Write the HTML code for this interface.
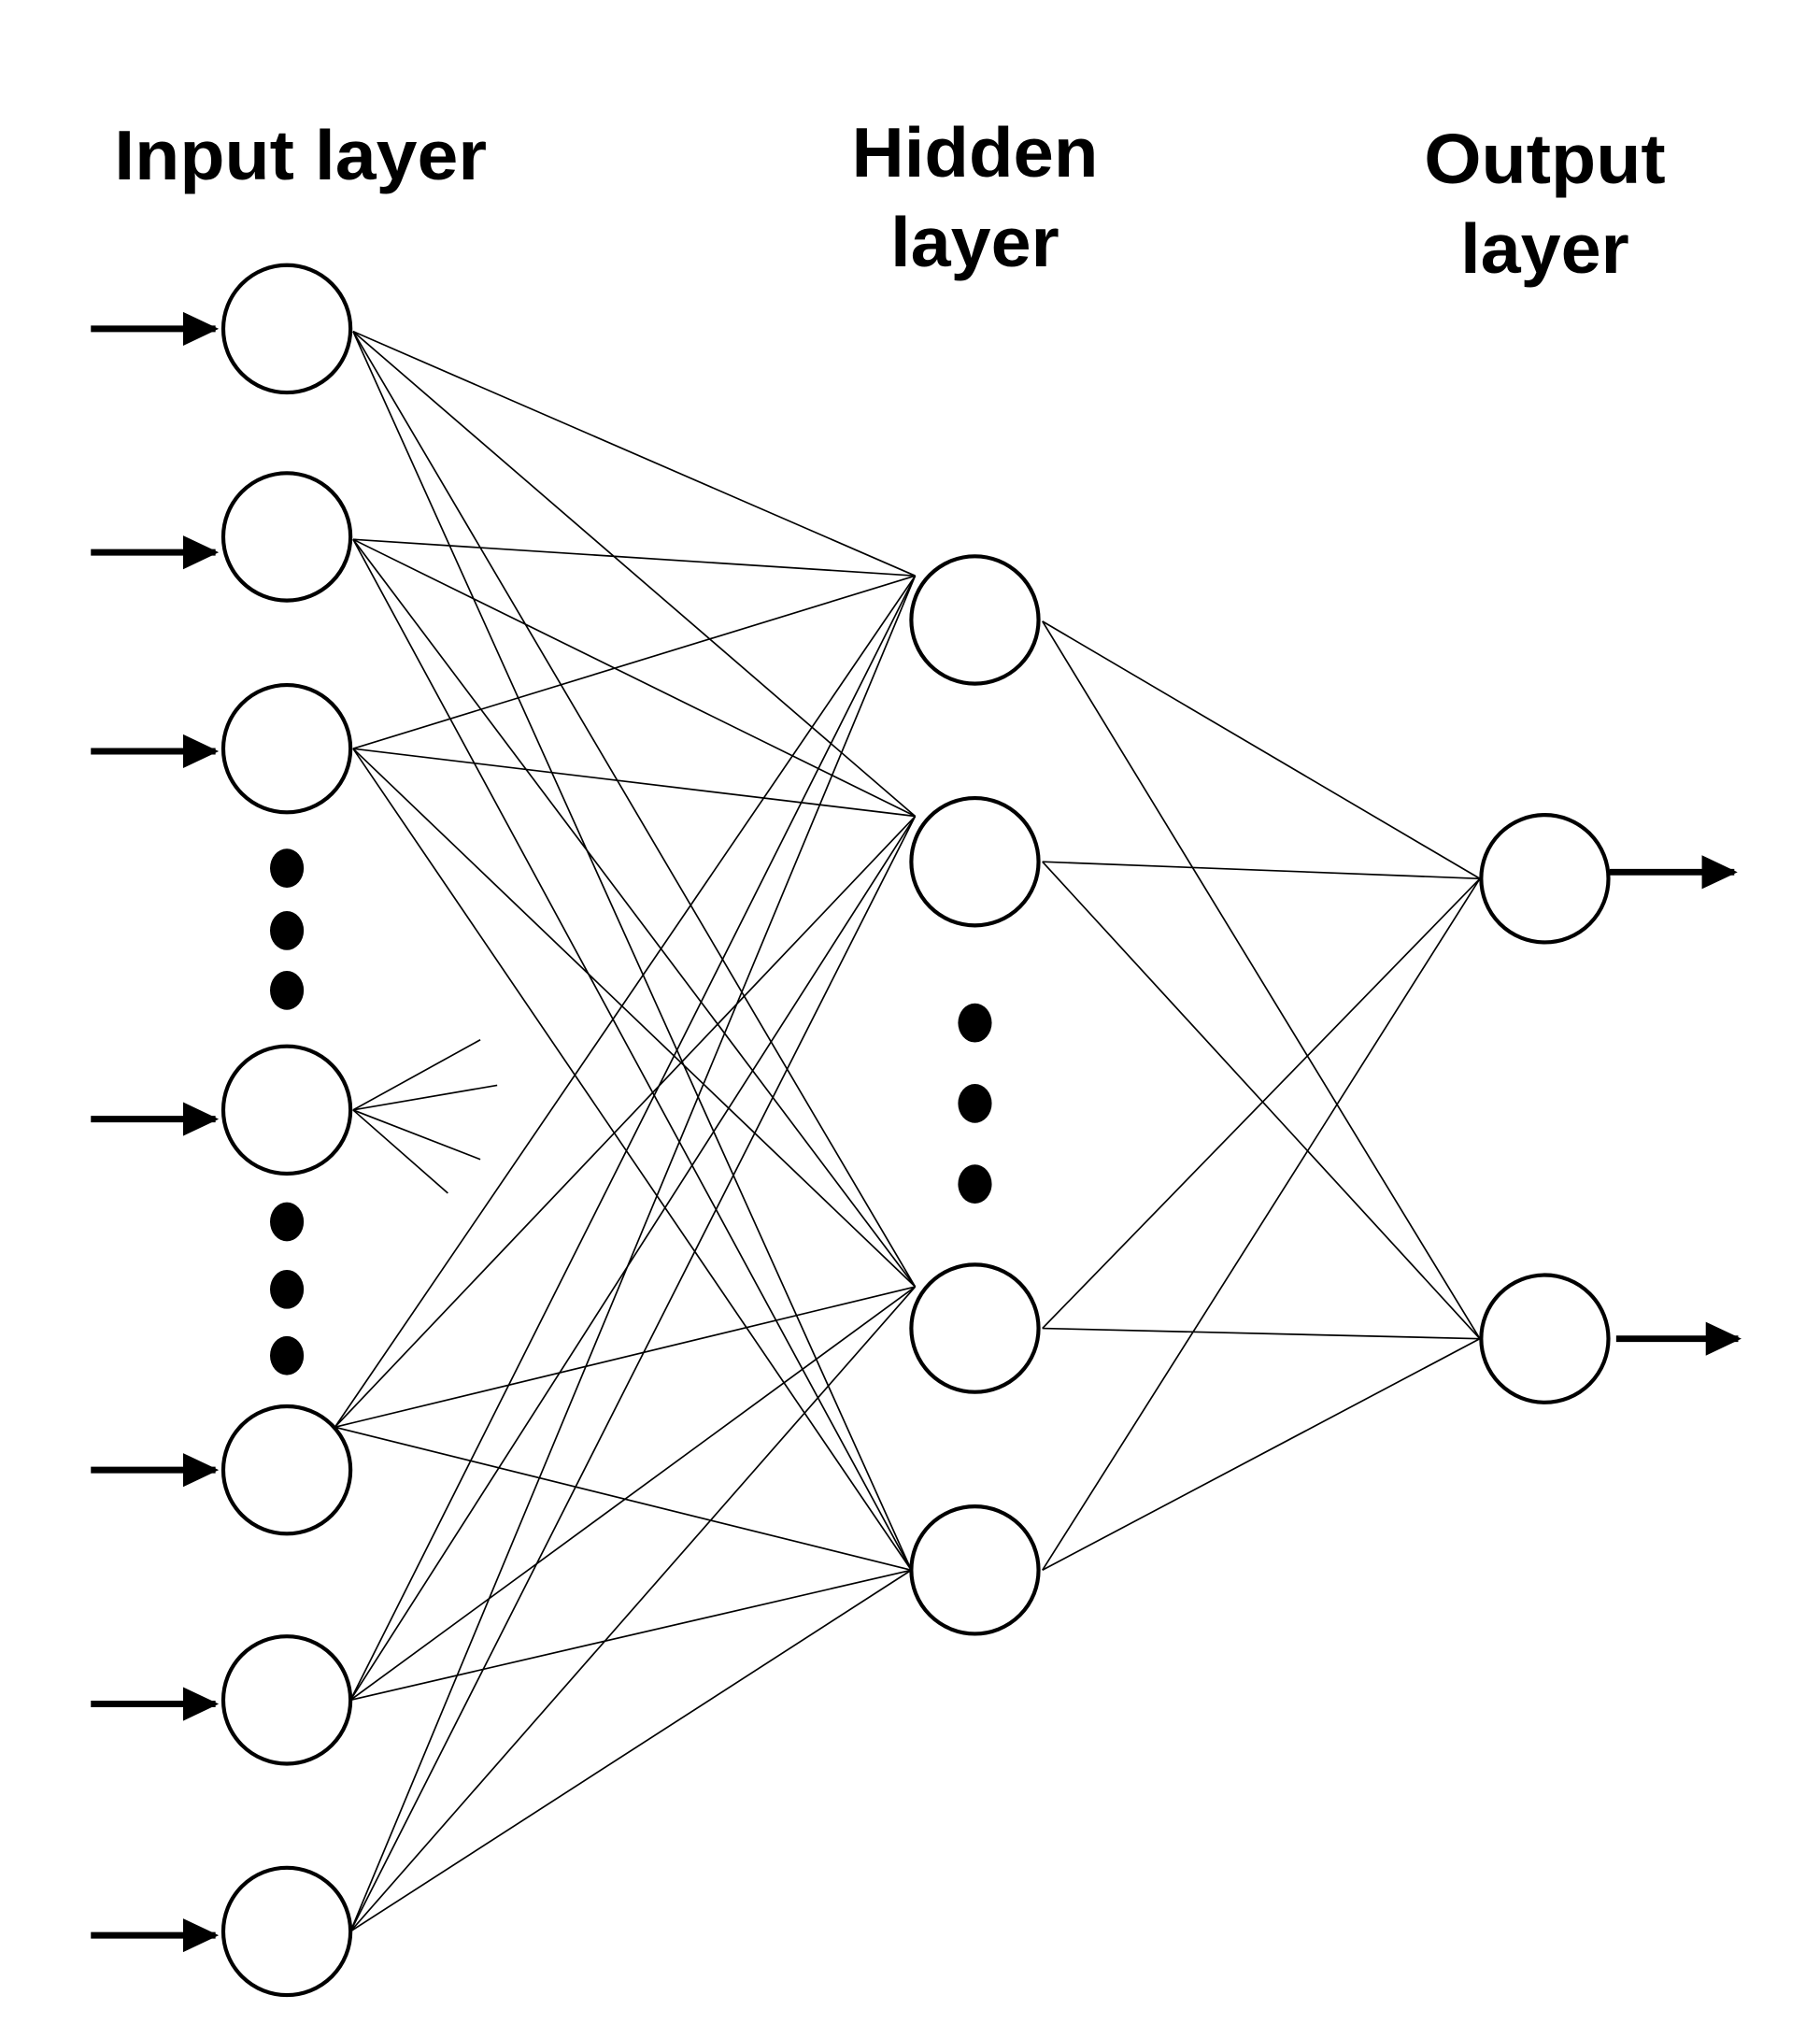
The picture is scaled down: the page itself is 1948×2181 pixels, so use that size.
<!DOCTYPE html>
<html><head><meta charset="utf-8"><style>
html,body{margin:0;padding:0;background:#fff;}
svg{display:block;}
text{font-family:"Liberation Sans",Arial,sans-serif;font-weight:bold;fill:#000;}
</style></head><body>
<svg width="1948" height="2181" viewBox="0 0 1402 1568" preserveAspectRatio="none" xmlns="http://www.w3.org/2000/svg">
<rect width="1402" height="1568" fill="#fff"/>
<defs><marker id="ah" markerWidth="6" markerHeight="6" refX="5" refY="3" orient="auto" markerUnits="strokeWidth"><path d="M0,0.4 L5.5,3 L0,5.6 z" fill="#000"/></marker></defs>
<text x="88" y="138" font-size="54" textLength="287" lengthAdjust="spacingAndGlyphs">Input layer</text>
<text x="656" y="136" font-size="54" textLength="190" lengthAdjust="spacingAndGlyphs">Hidden</text>
<text x="686" y="205" font-size="54" textLength="130" lengthAdjust="spacingAndGlyphs">layer</text>
<text x="1097" y="141" font-size="54" textLength="186" lengthAdjust="spacingAndGlyphs">Output</text>
<text x="1125" y="210" font-size="54" textLength="130" lengthAdjust="spacingAndGlyphs">layer</text>
<g stroke="#000" stroke-width="1.2" fill="none">
<line x1="272" y1="255" x2="705" y2="443"/><line x1="272" y1="255" x2="705" y2="628"/><line x1="272" y1="255" x2="705" y2="990"/><line x1="272" y1="255" x2="702" y2="1208"/>
<line x1="272" y1="415" x2="705" y2="443"/><line x1="272" y1="415" x2="705" y2="628"/><line x1="272" y1="415" x2="705" y2="990"/><line x1="272" y1="415" x2="702" y2="1208"/>
<line x1="272" y1="576" x2="705" y2="443"/><line x1="272" y1="576" x2="705" y2="628"/><line x1="272" y1="576" x2="705" y2="990"/><line x1="272" y1="576" x2="702" y2="1208"/>
<line x1="258" y1="1098" x2="705" y2="443"/><line x1="258" y1="1098" x2="705" y2="628"/><line x1="258" y1="1098" x2="705" y2="990"/><line x1="258" y1="1098" x2="702" y2="1208"/>
<line x1="270" y1="1308" x2="705" y2="443"/><line x1="270" y1="1308" x2="705" y2="628"/><line x1="270" y1="1308" x2="705" y2="990"/><line x1="270" y1="1308" x2="702" y2="1208"/>
<line x1="270" y1="1486" x2="705" y2="443"/><line x1="270" y1="1486" x2="705" y2="628"/><line x1="270" y1="1486" x2="705" y2="990"/><line x1="270" y1="1486" x2="702" y2="1208"/>
<line x1="272" y1="854" x2="370" y2="800"/><line x1="272" y1="854" x2="383" y2="835"/><line x1="272" y1="854" x2="370" y2="892"/><line x1="272" y1="854" x2="345" y2="918"/>
<line x1="803" y1="478" x2="1140" y2="676"/><line x1="803" y1="478" x2="1140" y2="1030"/>
<line x1="803" y1="663" x2="1140" y2="676"/><line x1="803" y1="663" x2="1140" y2="1030"/>
<line x1="803" y1="1022" x2="1140" y2="676"/><line x1="803" y1="1022" x2="1140" y2="1030"/>
<line x1="803" y1="1208" x2="1140" y2="676"/><line x1="803" y1="1208" x2="1140" y2="1030"/>
</g>
<g stroke="#000" stroke-width="5">
<line x1="70" y1="253" x2="166" y2="253" marker-end="url(#ah)"/>
<line x1="70" y1="425" x2="166" y2="425" marker-end="url(#ah)"/>
<line x1="70" y1="578" x2="166" y2="578" marker-end="url(#ah)"/>
<line x1="70" y1="861" x2="166" y2="861" marker-end="url(#ah)"/>
<line x1="70" y1="1131" x2="166" y2="1131" marker-end="url(#ah)"/>
<line x1="70" y1="1311" x2="166" y2="1311" marker-end="url(#ah)"/>
<line x1="70" y1="1489" x2="166" y2="1489" marker-end="url(#ah)"/>
<line x1="1240" y1="671" x2="1336" y2="671" marker-end="url(#ah)"/>
<line x1="1245" y1="1030" x2="1339" y2="1030" marker-end="url(#ah)"/>
</g>
<g stroke="#000" stroke-width="3" fill="#fff">
<ellipse cx="221" cy="253" rx="49" ry="49"/><ellipse cx="221" cy="413" rx="49" ry="49"/><ellipse cx="221" cy="576" rx="49" ry="49"/>
<ellipse cx="221" cy="854" rx="49" ry="49"/><ellipse cx="221" cy="1131" rx="49" ry="49"/><ellipse cx="221" cy="1308" rx="49" ry="49"/><ellipse cx="221" cy="1486" rx="49" ry="49"/>
<ellipse cx="751" cy="477" rx="49" ry="49"/><ellipse cx="751" cy="663" rx="49" ry="49"/><ellipse cx="751" cy="1022" rx="49" ry="49"/><ellipse cx="751" cy="1208" rx="49" ry="49"/>
<ellipse cx="1190" cy="676" rx="49" ry="49"/><ellipse cx="1190" cy="1030" rx="49" ry="49"/>
</g>
<g fill="#000">
<ellipse cx="221" cy="668" rx="13" ry="15"/><ellipse cx="221" cy="716" rx="13" ry="15"/><ellipse cx="221" cy="762" rx="13" ry="15"/>
<ellipse cx="221" cy="940" rx="13" ry="15"/><ellipse cx="221" cy="992" rx="13" ry="15"/><ellipse cx="221" cy="1043" rx="13" ry="15"/>
<ellipse cx="751" cy="787" rx="13" ry="15"/><ellipse cx="751" cy="849" rx="13" ry="15"/><ellipse cx="751" cy="911" rx="13" ry="15"/>
</g>
</svg>
</body></html>
